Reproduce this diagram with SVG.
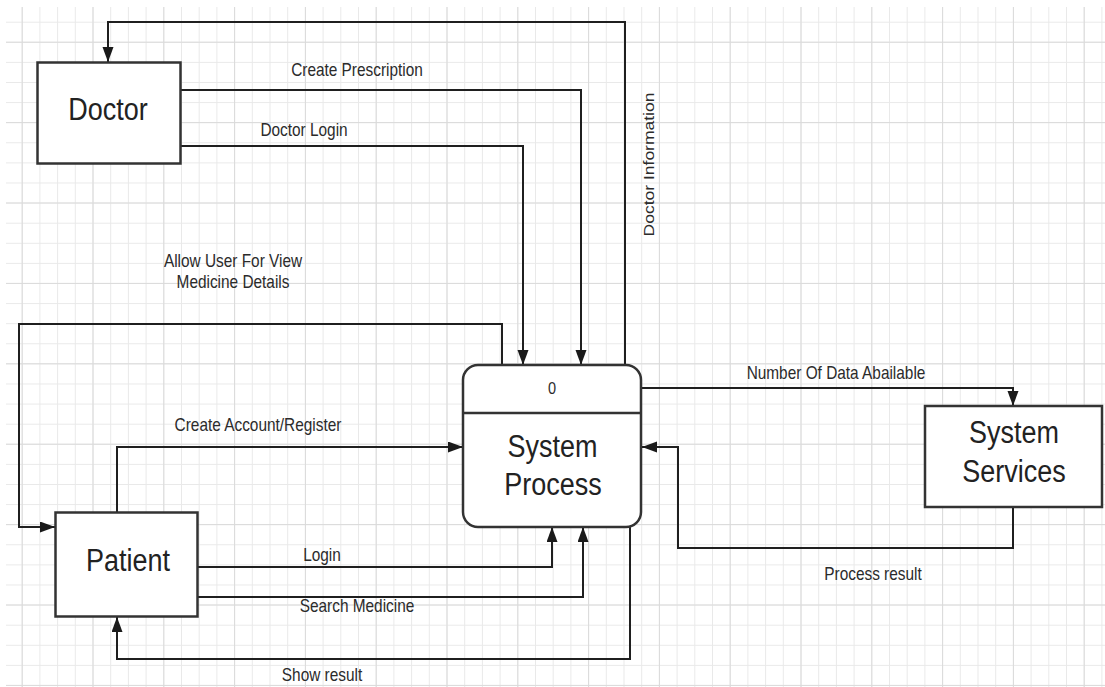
<svg xmlns="http://www.w3.org/2000/svg" width="1105" height="687" viewBox="0 0 1105 687">
<defs>
<pattern id="minor" patternUnits="userSpaceOnUse" x="21.7" y="1.6" width="17.7" height="20.1">
<path d="M0.5,0 V20.1 M0,0.5 H17.7" stroke="#e9e9e9" stroke-width="1" fill="none"/>
</pattern>
<pattern id="major" patternUnits="userSpaceOnUse" x="21.7" y="41.7" width="70.8" height="80.4">
<path d="M0.5,0 V80.4 M0,0.5 H70.8" stroke="#dadada" stroke-width="1" fill="none"/>
</pattern>
<marker id="arr" markerUnits="userSpaceOnUse" markerWidth="16" markerHeight="12" refX="15" refY="5.5" orient="auto">
<path d="M0,0 L15,5.5 L0,11 z" fill="#1a1a1a"/>
</marker>
<style>
.box{fill:#fff;stroke:#333;stroke-width:2.5}
.ln{fill:none;stroke:#1f1f1f;stroke-width:2;marker-end:url(#arr)}
.lbl{font-family:"Liberation Sans",Arial,sans-serif;font-size:17.5px;fill:#2b2b2b;text-anchor:middle}
.big{font-family:"Liberation Sans",Arial,sans-serif;font-size:31px;fill:#222;text-anchor:middle}
</style>
</defs>
<rect width="1105" height="687" fill="#fff"/>
<rect x="6" y="7" width="1099" height="680" fill="url(#minor)"/>
<rect x="6" y="7" width="1099" height="680" fill="url(#major)"/>

<g id="connectors">
<path class="ln" d="M625,365 V22 H108 V62"/>
<path class="ln" d="M180,90 H581 V365"/>
<path class="ln" d="M180,146 H523 V365"/>
<path class="ln" d="M502,365 V324 H19 V527 H55"/>
<path class="ln" d="M117,512 V447 H463"/>
<path class="ln" d="M197,567 H552 V527"/>
<path class="ln" d="M197,597 H583 V527"/>
<path class="ln" d="M630,527 V659 H117 V617"/>
<path class="ln" d="M642,388 H1013 V406"/>
<path class="ln" d="M1013,507 V548 H678 V447 H642"/>
<text class="lbl" transform="translate(357 76) scale(0.88 1)">Create Prescription</text>
<text class="lbl" transform="translate(304 136) scale(0.88 1)">Doctor Login</text>
<text class="lbl" transform="translate(654 164.5) scale(0.88 1) rotate(-90)">Doctor Information</text>
<text class="lbl" transform="translate(233 266.5) scale(0.88 1)">Allow User For View</text>
<text class="lbl" transform="translate(233 288) scale(0.88 1)">Medicine Details</text>
<text class="lbl" transform="translate(258 431) scale(0.88 1)">Create Account/Register</text>
<text class="lbl" transform="translate(322 560.5) scale(0.88 1)">Login</text>
<text class="lbl" transform="translate(357 611.5) scale(0.88 1)">Search Medicine</text>
<text class="lbl" transform="translate(322 680.5) scale(0.88 1)">Show result</text>
<text class="lbl" transform="translate(836 379) scale(0.88 1)">Number Of Data Abailable</text>
<text class="lbl" transform="translate(873 580) scale(0.88 1)">Process result</text>
</g>

<g id="doctor">
<rect class="box" x="37.5" y="62.5" width="143" height="101"/>
<text class="big" transform="translate(108 119.5) scale(0.87 1)">Doctor</text>
</g>

<g id="system-process">
<rect class="box" x="463" y="365" width="178" height="162" rx="15" ry="15"/>
<line x1="463" y1="413" x2="641" y2="413" stroke="#333" stroke-width="2.5"/>
<text class="lbl" transform="translate(552 394) scale(0.88 1)" style="font-size:16.5px">0</text>
<text class="big" transform="translate(552.5 456.5) scale(0.87 1)">System</text>
<text class="big" transform="translate(553 495) scale(0.87 1)">Process</text>
</g>

<g id="system-services">
<rect class="box" x="925" y="406" width="177" height="101"/>
<text class="big" transform="translate(1014 443) scale(0.87 1)">System</text>
<text class="big" transform="translate(1014 481.5) scale(0.87 1)">Services</text>
</g>

<g id="patient">
<rect class="box" x="55.5" y="512.5" width="142" height="104"/>
<text class="big" transform="translate(128 571) scale(0.87 1)">Patient</text>
</g>
</svg>
